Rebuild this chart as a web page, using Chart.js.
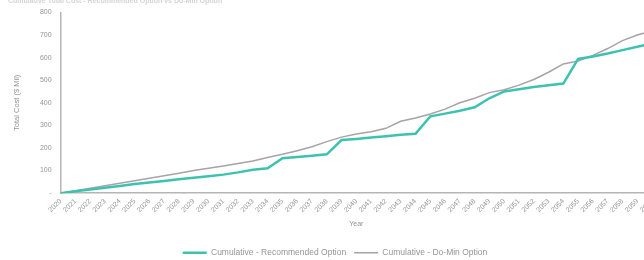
<!DOCTYPE html>
<html>
<head>
<meta charset="utf-8">
<script src="https://cdn.jsdelivr.net/npm/chart.js@4.4.1/dist/chart.umd.min.js"></script>
<style>
  body { margin: 0; background: #fff; overflow: hidden; width: 644px; height: 260px; position: relative; }
  #wrap { position: absolute; left: 0; top: -3px; width: 662px; height: 270px; }
</style>
</head>
<body>
<div id="wrap"><canvas id="costChart"></canvas></div>
<script>
// --- DATA ---
const years = [];
for (let y = 2020; y <= 2060; y++) years.push(String(y));

// Cumulative cost ($ Mil)
const recommended = [0, 8, 16, 24, 32, 40, 47, 54, 61, 68,
                     75, 82, 92, 104, 110, 155, 160, 166, 172, 235,
                     240, 246, 252, 258, 263, 340, 352, 365, 380, 420,
                     450, 460, 470, 478, 485, 594, 605, 618, 633, 648,
                     662];
const doMin = [0, 11, 22, 33, 44, 55, 66, 77, 88, 100,
               110, 120, 131, 142, 158, 172, 188, 205, 228, 248,
               262, 272, 287, 318, 333, 350, 372, 400, 420, 445,
               458, 478, 503, 535, 572, 585, 610, 640, 675, 700,
               718];

const yTicks = [0, 100, 200, 300, 400, 500, 600, 700, 800];

// --- CHART ---
const family = "'Liberation Sans', Arial, sans-serif";
const tickFont = { family: family, size: 7 };
const legendFont = { family: family, size: 8.5 };
const grey = '#959595';

new Chart(document.getElementById('costChart'), {
    type: 'line',
    data: {
        labels: years,
        datasets: [
            {
                label: 'Cumulative - Recommended Option',
                data: recommended,
                borderColor: '#3cc3b0',
                borderWidth: 2.5,
                pointRadius: 0,
                tension: 0
            },
            {
                label: 'Cumulative - Do-Min Option',
                data: doMin,
                borderColor: '#aaa2a6',
                borderWidth: 1.5,
                pointRadius: 0,
                tension: 0
            }
        ]
    },
    options: {
        responsive: true,
        maintainAspectRatio: false,
        animation: false,
        layout: { padding: { left: 8, top: 0, right: 0, bottom: 0 } },
        plugins: {
            title: {
                display: true,
                text: 'Cumulative Total Cost - Recommended Option vs Do-Min Option',
                align: 'start',
                color: '#d4d4d4',
                font: { family: family, size: 7 },
                padding: { top: 0, bottom: 7 }
            },
            legend: {
                position: 'bottom',
                labels: {
                    color: grey,
                    font: legendFont,
                    usePointStyle: true,
                    pointStyle: 'line',
                    pointStyleWidth: 24,
                    boxHeight: 8,
                    padding: 8
                }
            },
            tooltip: { enabled: false }
        },
        scales: {
            x: {
                offset: false,
                grid: { display: false, drawTicks: false },
                border: { display: true, color: '#b5b5b5', width: 1.5 },
                ticks: {
                    color: grey,
                    font: tickFont,
                    autoSkip: false,
                    maxRotation: 45,
                    minRotation: 45,
                    padding: 4
                },
                title: { display: true, text: 'Year', color: grey, font: tickFont, padding: { top: 2, bottom: 12 } }
            },
            y: {
                min: 0,
                max: 800,
                afterBuildTicks: axis => { axis.ticks = yTicks.map(v => ({ value: v })); },
                grid: { display: false, drawTicks: false },
                border: { display: true, color: '#b5b5b5', width: 1.5 },
                ticks: {
                    color: grey,
                    font: tickFont,
                    padding: 9,
                    callback: v => v === 0 ? '-' : ' ' + v
                },
                title: { display: true, text: 'Total Cost ($ Mil)', color: grey, font: { family: family, size: 7.5 }, padding: { bottom: 8 } }
            }
        }
    }
});
</script>
</body>
</html>
